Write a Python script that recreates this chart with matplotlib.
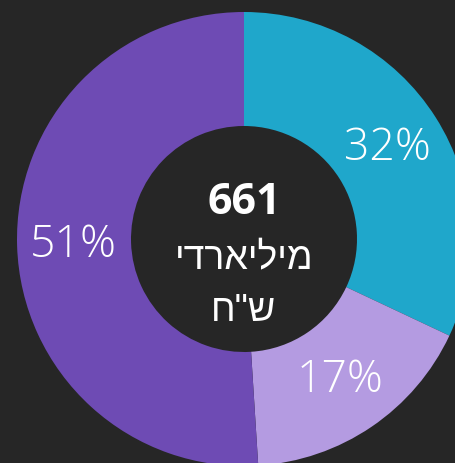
import matplotlib.pyplot as plt

# data
shares = [32, 17, 51]
labels = ["32%", "17%", "51%"]
colors = ["#1fa7cb", "#b49be1", "#6e4bb4"]
total = "661"
unit_lines = ["מיליארדי", 'ש"ח']

bg = "#262626"
W, H = 456, 464

fig = plt.figure(figsize=(W / 100, H / 100), dpi=100, facecolor=bg)
ax = fig.add_axes([0, 0, 1, 1])
ax.set_facecolor(bg)

cx, cy, r = 244, H - 240, 227
wedges, texts, autotexts = ax.pie(
    shares, colors=colors, startangle=90, counterclock=False,
    center=(cx, cy), radius=r, autopct=lambda p: "%d%%" % round(p),
    pctdistance=0.75, wedgeprops=dict(width=r - 113, linewidth=0),
    textprops=dict(color="white", fontsize=32, family=["Open Sans", "DejaVu Sans"], weight="light"),
)
ax.set_xlim(0, W)
ax.set_ylim(0, H)
ax.axis("off")

ax.text(cx, H - 202, total, ha="center", va="center", color="white",
        fontsize=31, weight="bold", family=["Open Sans", "DejaVu Sans"])
# matplotlib draws left to right, so the hebrew goes in reversed
heb = ["Liberation Sans", "DejaVu Sans"]
ax.text(cx, H - 258, unit_lines[0][::-1], ha="center", va="center", color="white",
        fontsize=27, family=heb)
ax.text(cx, H - 311, unit_lines[1][::-1], ha="center", va="center", color="white",
        fontsize=27, family=heb)

fig.savefig("out.png", dpi=100, facecolor=bg)
